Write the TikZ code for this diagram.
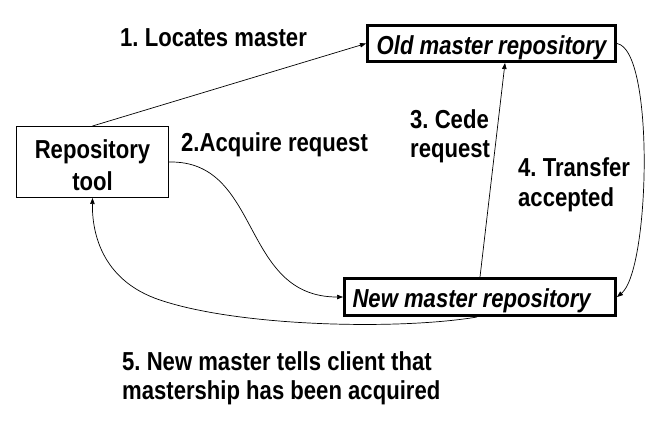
\documentclass[tikz,border=0pt]{standalone}
\usepackage{fontspec}
\setmainfont{Liberation Sans}[FakeStretch=0.85]
\usetikzlibrary{arrows.meta}
\begin{document}
\frenchspacing
\begin{tikzpicture}[x=1pt,y=-1pt,
  font=\fontsize{26}{30}\selectfont\bfseries,
  conn/.style={line width=0.7pt, -{Triangle[length=6pt,width=4.5pt]}},
  thinbox/.style={draw, line width=1pt, minimum width=152pt, minimum height=71pt, inner sep=0pt, align=center},
  thickbox/.style={draw, line width=3pt, inner sep=0pt},
  lbl/.style={anchor=base west, inner sep=0pt}]
\useasboundingbox (0,0) rectangle (668,432);
\node[thinbox, font=\fontsize{26}{32}\selectfont\bfseries] (tool) at (92.5,162) {\rule{0pt}{25pt}Repository\\tool};
\node[thickbox, minimum width=248pt, minimum height=36pt, text height=27pt, text depth=5pt] (old) at (491.5,43.5) {\itshape Old master repository};
\node[thickbox, minimum width=271pt, minimum height=37pt, text height=25pt, text depth=5pt, text width=255pt, align=flush left, inner xsep=8pt] (new) at (480,297) {\itshape New master repository};
\draw[conn] (tool.north) -- (old.west);
\draw[conn] (tool.east) .. controls (262,160) and (240,297) .. (new.west);
\draw[conn] (new.north) -- ([xshift=13.5pt]old.south);
\draw[conn] (old.east) .. controls (655,50) and (650,270) .. (new.east);
\coordinate (n5) at (160,300);
\draw[conn] ([xshift=-3pt]new.south) .. controls (400,330) and (240,327) .. (n5) .. controls (100,280) and (92,230) .. (tool.south);
\node[lbl] (l1) at (120,46) {1. Locates master};
\node[lbl] (l2) at (181,151) {2.Acquire request};
\node[lbl] (l3a) at (410,128) {3. Cede};
\node[lbl] (l3b) at (410,157) {request};
\node[lbl] (l4a) at (518,176) {4. Transfer};
\node[lbl] (l4b) at (518,206) {accepted};
\node[lbl] (l5a) at (122,370) {5. New master tells client that};
\node[lbl] (l5b) at (122,399) {mastership has been acquired};
\end{tikzpicture}
\end{document}
